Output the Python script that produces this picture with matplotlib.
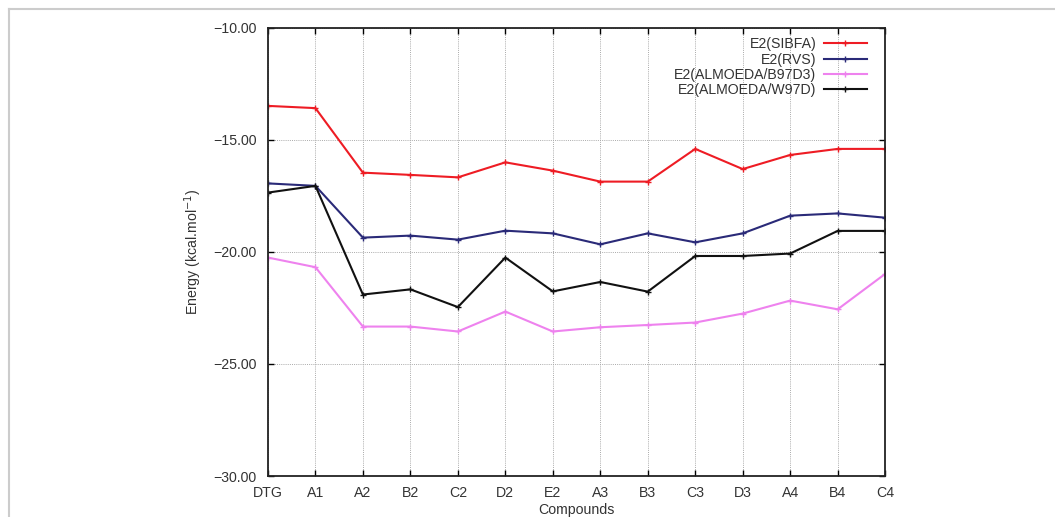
import matplotlib
matplotlib.use("Agg")
import matplotlib.pyplot as plt
from matplotlib.lines import Line2D

plt.rcParams['font.family'] = ['Liberation Sans', 'DejaVu Sans']

compounds = ["DTG", "A1", "A2", "B2", "C2", "D2", "E2", "A3", "B3", "C3", "D3", "A4", "B4", "C4"]
sibfa = [-13.48, -13.58, -16.46, -16.56, -16.67, -16.0, -16.37, -16.86, -16.86, -15.4, -16.3, -15.67, -15.4, -15.4]
rvs = [-16.94, -17.05, -19.36, -19.27, -19.45, -19.05, -19.17, -19.66, -19.17, -19.57, -19.17, -18.38, -18.28, -18.47]
b97d3 = [-20.25, -20.68, -23.33, -23.33, -23.55, -22.66, -23.55, -23.36, -23.26, -23.15, -22.75, -22.17, -22.56, -20.98]
w97d = [-17.35, -17.05, -21.9, -21.67, -22.46, -20.25, -21.76, -21.34, -21.77, -20.18, -20.18, -20.07, -19.06, -19.06]
yticks = [-30, -25, -20, -15, -10]

fig = plt.figure(figsize=(10.55, 5.17), dpi=100)
ax = fig.add_axes([0.254, 0.0793, 0.585, 0.8667])

x = list(range(len(compounds)))
series = [
    ("E2(SIBFA)", sibfa, "#ee1c24"),
    ("E2(RVS)", rvs, "#2a2a78"),
    ("E2(ALMOEDA/B97D3)", b97d3, "#ee82ee"),
    ("E2(ALMOEDA/W97D)", w97d, "#111111"),
]
for label, vals, col in series:
    ax.plot(x, vals, color=col, lw=1.5, marker='+', ms=5, mew=1.0, label=label)

fs = 10.2
ax.set_xlim(0, len(compounds) - 1)
ax.set_ylim(-30, -10)
ax.set_xticks(x)
ax.set_xticklabels(compounds, fontsize=fs, color='#333333')
ax.set_yticks(yticks)
ax.set_yticklabels([f"\u2212{abs(v):.2f}" for v in yticks], fontsize=fs, color='#333333')
ax.tick_params(direction='in', top=True, right=True, length=4, width=1.0)
ax.tick_params(axis='y', pad=8)
ax.tick_params(axis='x', pad=7)
ax.grid(True, linestyle=(0, (1, 1.2)), color='#aaaaaa', lw=0.7)
for s in ax.spines.values():
    s.set_linewidth(1.3)
    s.set_color('#222222')

ax.set_xlabel("Compounds", fontsize=fs, color='#333333', labelpad=2)
ax.set_ylabel("Energy (kcal.mol$^{-1}$)", fontsize=fs, color='#333333', labelpad=7)

leg = ax.legend(loc='upper right', frameon=False, markerfirst=False, fontsize=fs,
                handlelength=3.0, handletextpad=0.55, labelspacing=0.1,
                borderaxespad=0.35, borderpad=0.3, bbox_to_anchor=(0.985, 1.0))
for t in leg.get_texts():
    t.set_color('#333333')
    t.set_ha('right')

# outer frame
fig.add_artist(Line2D([9/1055, 1], [1 - 9/517, 1 - 9/517], color='#cccccc', lw=1.5, transform=fig.transFigure))
fig.add_artist(Line2D([9/1055, 9/1055], [0, 1 - 9/517], color='#cccccc', lw=1.5, transform=fig.transFigure))

fig.savefig("out.png", dpi=100)
